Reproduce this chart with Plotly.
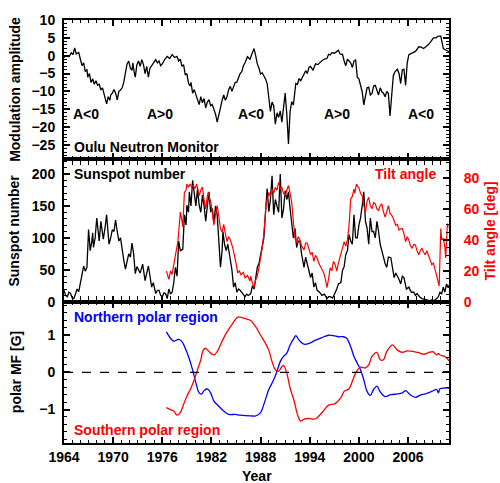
import plotly.graph_objects as go

# ---- Oulu neutron monitor modulation amplitude ----
mod_year = [1964.0, 1964.3, 1964.6, 1964.9, 1965.1, 1965.3, 1965.5, 1965.8, 1966.0, 1966.2,
            1966.4, 1966.6, 1966.8, 1966.9, 1967.1, 1967.3, 1967.5, 1967.7, 1967.9, 1968.1,
            1968.3, 1968.5, 1968.7, 1968.9, 1969.1, 1969.2, 1969.4, 1969.6, 1969.7, 1969.9,
            1970.1, 1970.3, 1970.5, 1970.7, 1970.9, 1971.1, 1971.3, 1971.5, 1971.7, 1971.9,
            1972.1, 1972.3, 1972.4, 1972.6, 1972.7, 1972.9, 1973.1, 1973.3, 1973.5, 1973.7,
            1973.9, 1974.1, 1974.3, 1974.5, 1974.8, 1975.0, 1975.2, 1975.4, 1975.6, 1975.8,
            1976.0, 1976.3, 1976.6, 1976.9, 1977.2, 1977.5, 1977.8, 1978.0, 1978.2, 1978.4,
            1978.6, 1978.8, 1979.0, 1979.2, 1979.4, 1979.5, 1979.7, 1979.9, 1980.1, 1980.3,
            1980.5, 1980.7, 1980.9, 1981.1, 1981.3, 1981.5, 1981.7, 1981.9, 1982.1, 1982.3,
            1982.5, 1982.7, 1982.9, 1983.1, 1983.3, 1983.5, 1983.7, 1983.9, 1984.1, 1984.3,
            1984.5, 1984.7, 1984.9, 1985.1, 1985.3, 1985.5, 1985.7, 1985.9, 1986.1, 1986.4,
            1986.7, 1987.0, 1987.2, 1987.4, 1987.6, 1987.8, 1988.0, 1988.2, 1988.4, 1988.6,
            1988.8, 1989.0, 1989.2, 1989.4, 1989.6, 1989.8, 1990.0, 1990.2, 1990.4, 1990.6,
            1990.8, 1991.0, 1991.2, 1991.4, 1991.6, 1991.8, 1992.0, 1992.2, 1992.3, 1992.5,
            1992.7, 1992.9, 1993.1, 1993.3, 1993.5, 1993.7, 1993.9, 1994.1, 1994.4, 1994.7,
            1995.0, 1995.3, 1995.6, 1995.9, 1996.1, 1996.3, 1996.5, 1996.7, 1997.0, 1997.2,
            1997.5, 1997.7, 1998.0, 1998.2, 1998.4, 1998.6, 1998.8, 1999.0, 1999.2, 1999.4,
            1999.6, 1999.8, 2000.0, 2000.2, 2000.4, 2000.6, 2000.8, 2001.0, 2001.2, 2001.4,
            2001.6, 2001.8, 2002.0, 2002.2, 2002.4, 2002.6, 2002.8, 2003.0, 2003.2, 2003.4,
            2003.6, 2003.8, 2004.0, 2004.2, 2004.4, 2004.7, 2004.9, 2005.1, 2005.3, 2005.5,
            2005.7, 2005.9, 2006.1, 2006.3, 2006.5, 2006.7, 2006.9, 2007.1, 2007.3, 2007.6,
            2007.9, 2008.2, 2008.5, 2008.8, 2009.1, 2009.4, 2009.7, 2010.0, 2010.2, 2010.3,
            2010.6, 2010.8, 2011.0]
mod_val = [-0.5, 0.0, -0.3, 0.8, 0.3, 2.2, 0.5, 0.9, -1.0, -2.8,
           -2.0, -4.5, -3.8, -6.0, -5.0, -7.5, -6.5, -8.0, -7.0, -8.3,
           -8.0, -9.6, -9.0, -11.0, -12.8, -13.5, -11.5, -12.5, -11.0, -10.5,
           -9.5, -10.5, -12.4, -10.0, -9.6, -9.0, -7.4, -5.0, -2.3, -1.5,
           -3.5, -4.1, -2.0, -5.0, -6.0, -2.5, -1.5, -3.0, -1.1, -2.5,
           -5.0, -3.0, -6.0, -3.5, -2.3, -1.8, -1.1, -2.0, -1.5, -2.8,
           -2.3, -1.0, -0.2, -0.8, 0.3, -0.5, -0.2, -1.5, -1.0, -3.0,
           -2.5, -5.4, -5.0, -7.7, -8.5, -7.5, -10.5, -9.5, -11.0, -12.0,
           -13.7, -11.5, -13.2, -12.0, -14.6, -13.0, -12.3, -14.0, -13.7, -15.0,
           -16.4, -18.6, -16.0, -14.6, -12.5, -11.0, -12.5, -11.5, -9.5, -8.6,
           -10.0, -9.0, -7.5, -7.4, -6.0, -5.0, -4.5, -2.8, -2.0, -0.3,
           -1.0, 0.5, 2.0, 0.0, -2.3, -3.5, -5.1, -4.8, -5.6, -6.5,
           -7.8, -11.5, -15.6, -13.0, -14.0, -19.2, -16.0, -17.3, -15.5, -18.6,
           -14.0, -10.5, -16.4, -24.7, -15.6, -12.9, -13.8, -9.0, -7.8, -8.0,
           -6.4, -7.0, -6.0, -5.0, -4.2, -5.0, -3.3, -3.0, -4.1, -2.3,
           -2.5, -1.8, -1.2, -0.9, -0.8, 0.4, 0.2, 0.85, 0.7, 1.0,
           1.5, 0.5, 0.4, -1.5, -2.8, -1.0, -1.5, -2.0, -3.3, -1.5,
           -1.1, -6.0, -6.5, -8.3, -10.1, -13.8, -11.0, -9.0, -8.8, -11.0,
           -10.6, -8.5, -8.3, -9.5, -11.0, -9.0, -10.1, -10.5, -11.5, -10.0,
           -10.6, -16.9, -10.6, -5.6, -4.5, -3.8, -5.0, -7.8, -4.0, -3.8,
           -8.3, -2.0, 0.3, 0.5, 0.7, 1.0, 1.2, 1.8, 2.5, 2.4,
           2.0, 2.6, 3.1, 4.0, 5.0, 5.0, 5.5, 5.5, 3.5, 2.0,
           1.6, 1.5, 1.2]

# ---- Sunspot number ----
ssn_year = [1964.0, 1964.2, 1964.4, 1964.6, 1964.8, 1965.0, 1965.2, 1965.4, 1965.6, 1965.8,
            1966.0, 1966.2, 1966.4, 1966.6, 1966.8, 1967.0, 1967.1, 1967.2, 1967.4, 1967.5,
            1967.6, 1967.8, 1968.0, 1968.2, 1968.3, 1968.5, 1968.7, 1968.8, 1969.0, 1969.2,
            1969.4, 1969.5, 1969.7, 1969.9, 1970.1, 1970.3, 1970.5, 1970.7, 1970.9, 1971.1,
            1971.3, 1971.5, 1971.7, 1971.9, 1972.1, 1972.3, 1972.5, 1972.7, 1972.9, 1973.1,
            1973.3, 1973.6, 1973.8, 1973.9, 1974.1, 1974.3, 1974.5, 1974.7, 1974.9, 1975.2,
            1975.4, 1975.6, 1975.8, 1976.0, 1976.2, 1976.4, 1976.6, 1976.8, 1977.0, 1977.2,
            1977.4, 1977.6, 1977.8, 1978.0, 1978.2, 1978.5, 1978.7, 1978.9, 1979.0, 1979.2,
            1979.3, 1979.5, 1979.7, 1979.9, 1980.1, 1980.3, 1980.5, 1980.7, 1980.9, 1981.1,
            1981.3, 1981.5, 1981.7, 1981.9, 1982.1, 1982.3, 1982.5, 1982.7, 1982.9, 1983.1,
            1983.3, 1983.4, 1983.6, 1983.8, 1984.0, 1984.3, 1984.5, 1984.7, 1984.9, 1985.1,
            1985.3, 1985.5, 1985.8, 1986.1, 1986.3, 1986.5, 1986.8, 1987.0, 1987.2, 1987.4,
            1987.6, 1987.8, 1988.0, 1988.2, 1988.4, 1988.6, 1988.8, 1989.0, 1989.2, 1989.4,
            1989.6, 1989.8, 1990.0, 1990.2, 1990.4, 1990.6, 1990.8, 1991.0, 1991.2, 1991.4,
            1991.6, 1991.8, 1992.0, 1992.2, 1992.4, 1992.6, 1992.8, 1993.0, 1993.3, 1993.5,
            1993.7, 1993.9, 1994.1, 1994.3, 1994.5, 1994.7, 1994.9, 1995.2, 1995.5, 1995.8,
            1996.1, 1996.3, 1996.5, 1996.8, 1997.1, 1997.3, 1997.5, 1997.8, 1998.0, 1998.2,
            1998.4, 1998.6, 1998.8, 1999.0, 1999.2, 1999.4, 1999.6, 1999.8, 2000.0, 2000.2,
            2000.4, 2000.6, 2000.8, 2001.0, 2001.2, 2001.4, 2001.6, 2001.8, 2002.0, 2002.2,
            2002.4, 2002.6, 2002.8, 2003.0, 2003.2, 2003.4, 2003.6, 2003.9, 2004.1, 2004.3,
            2004.5, 2004.7, 2004.9, 2005.1, 2005.3, 2005.5, 2005.8, 2006.1, 2006.4, 2006.7,
            2006.9, 2007.1, 2007.4, 2007.7, 2008.0, 2008.3, 2008.6, 2008.9, 2009.2, 2009.5,
            2009.7, 2009.9, 2010.1, 2010.3, 2010.5, 2010.7, 2010.9, 2011.0]
ssn_val = [18, 10, 8, 15, 13, 6, 5, 14, 20, 16,
           28, 40, 56, 48, 54, 113, 90, 80, 95, 108,
           85, 100, 131, 105, 95, 126, 110, 98, 115, 136,
           105, 90, 100, 113, 110, 128, 110, 95, 100, 80,
           65, 51, 62, 75, 70, 92, 75, 44, 55, 51,
           45, 59, 40, 33, 45, 56, 40, 23, 30, 13,
           18, 18, 10, 8, 14, 13, 5, 20, 12, 15,
           30, 54, 40, 95, 80, 82, 136, 120, 151, 140,
           172, 150, 190, 167, 150, 177, 151, 140, 167, 150,
           126, 150, 172, 140, 146, 123, 150, 136, 100, 54,
           80, 110, 90, 80, 90, 67, 50, 23, 30, 15,
           20, 18, 12, 8, 12, 10, 13, 25, 20, 40,
           54, 60, 74, 90, 100, 140, 177, 141, 160, 197,
           136, 160, 151, 140, 200, 131, 145, 174, 160, 172,
           146, 125, 100, 115, 85, 95, 95, 75, 54, 70,
           59, 45, 38, 45, 23, 30, 18, 15, 10, 12,
           5, 8, 8, 6, 13, 20, 28, 30, 49, 55,
           74, 80, 105, 95, 90, 136, 100, 100, 120, 131,
           150, 172, 126, 115, 90, 131, 110, 110, 100, 126,
           110, 90, 80, 69, 60, 54, 70, 69, 50, 38,
           45, 41, 35, 28, 40, 38, 20, 23, 15, 15,
           10, 13, 8, 5, 4, 3.5, 2, 3, 2, 5,
           8, 15, 12, 23, 15, 28, 22, 26]

# ---- Heliospheric current sheet tilt angle (deg) ----
tilt_year = [1976.5, 1976.7, 1976.8, 1977.0, 1977.2, 1977.4, 1977.6, 1977.9, 1978.0, 1978.2,
             1978.4, 1978.5, 1978.7, 1978.9, 1979.0, 1979.2, 1979.4, 1979.6, 1979.8, 1980.0,
             1980.2, 1980.4, 1980.5, 1980.7, 1980.9, 1981.1, 1981.3, 1981.5, 1981.6, 1981.8,
             1981.9, 1982.1, 1982.3, 1982.5, 1982.7, 1982.9, 1983.1, 1983.3, 1983.5, 1983.7,
             1983.9, 1984.1, 1984.3, 1984.6, 1984.8, 1985.0, 1985.2, 1985.4, 1985.6, 1985.9,
             1986.1, 1986.4, 1986.7, 1986.8, 1987.0, 1987.2, 1987.4, 1987.6, 1987.8, 1988.0,
             1988.2, 1988.4, 1988.6, 1988.7, 1988.9, 1989.0, 1989.2, 1989.4, 1989.6, 1989.8,
             1990.0, 1990.2, 1990.4, 1990.6, 1990.8, 1991.0, 1991.2, 1991.4, 1991.6, 1991.8,
             1992.0, 1992.2, 1992.4, 1992.6, 1992.8, 1993.0, 1993.3, 1993.5, 1993.7, 1993.9,
             1994.1, 1994.3, 1994.5, 1994.7, 1994.9, 1995.1, 1995.3, 1995.5, 1995.7, 1995.9,
             1996.1, 1996.3, 1996.5, 1996.7, 1996.9, 1997.1, 1997.3, 1997.5, 1997.8, 1998.0,
             1998.2, 1998.4, 1998.6, 1998.8, 1999.0, 1999.2, 1999.4, 1999.5, 1999.7, 1999.9,
             2000.0, 2000.2, 2000.4, 2000.6, 2000.8, 2001.0, 2001.2, 2001.4, 2001.6, 2001.8,
             2002.0, 2002.2, 2002.4, 2002.6, 2002.8, 2003.0, 2003.2, 2003.4, 2003.6, 2003.8,
             2004.0, 2004.2, 2004.5, 2004.7, 2004.9, 2005.1, 2005.3, 2005.5, 2005.7, 2005.9,
             2006.1, 2006.3, 2006.5, 2006.7, 2006.9, 2007.1, 2007.3, 2007.5, 2007.7, 2007.9,
             2008.1, 2008.3, 2008.5, 2008.7, 2008.9, 2009.1, 2009.4, 2009.6, 2009.8, 2010.0,
             2010.1, 2010.3, 2010.5, 2010.6, 2010.8, 2010.9]
tilt_val = [19.8, 16, 14.5, 20, 17.7, 24, 30, 38.8, 45, 57.9,
            52, 48.4, 70.6, 72, 75.9, 74, 76, 74, 75, 73,
            76, 72, 68.5, 72, 74, 66, 60, 68, 70.6, 66,
            65, 58, 49.4, 56, 62.1, 55, 47.3, 45, 50, 44,
            38.8, 42, 40, 35, 30.4, 25, 18.7, 20, 17.5, 19,
            15.5, 17, 13.4, 16.6, 12, 9.2, 14, 16.6, 22, 28.3,
            35, 44.1, 55, 64.2, 68, 70.6, 68, 72.7, 70, 73.8,
            72, 77, 73, 73.8, 70, 68.5, 72, 75, 70, 64.2,
            52, 41, 37.8, 42, 40, 36, 33.5, 38, 37.8, 34,
            30.4, 32, 26.1, 30, 28.3, 25, 23, 21, 18.7, 15,
            9.2, 15, 21.9, 20, 26.1, 24, 19.8, 25, 30.4, 34,
            38.8, 36, 40, 49.4, 66.3, 68, 72.7, 70, 75.9, 74,
            73.8, 70, 68.5, 62, 57.9, 65, 67.4, 62, 60, 64,
            63.2, 60, 59, 62, 63.2, 58, 54.7, 58, 62, 57,
            56, 54, 49.4, 50, 46.3, 47, 47.3, 44, 38.8, 42,
            39.8, 36, 34.6, 37, 36.7, 33, 30.4, 33, 34.6, 32,
            30.4, 33, 30.4, 27, 24, 25, 18.7, 15, 10.3, 47.3,
            40, 41, 35, 28.3, 50.5, 48]

# ---- Polar magnetic field (G) ----
north_year = [1976.5, 1977.0, 1977.4, 1978.0, 1978.4, 1978.8, 1979.2, 1979.7, 1980.1, 1980.5,
              1980.8, 1981.1, 1981.5, 1981.9, 1982.3, 1982.9, 1983.5, 1984.1, 1984.9, 1985.5,
              1986.8, 1987.4, 1988.0, 1988.4, 1989.0, 1989.6, 1990.0, 1990.4, 1990.8, 1991.2,
              1991.6, 1992.1, 1992.3, 1992.7, 1993.3, 1993.9, 1994.7, 1995.5, 1996.3, 1996.9,
              1997.5, 1998.1, 1998.5, 1999.0, 1999.4, 1999.8, 2000.2, 2000.6, 2001.0, 2001.4,
              2001.8, 2002.2, 2002.6, 2003.2, 2003.9, 2004.7, 2005.3, 2005.7, 2006.3, 2006.9,
              2007.6, 2008.1, 2008.9, 2009.5, 2009.7, 2009.9, 2010.5, 2011.0]
north_val = [1.09, 0.92, 0.84, 0.89, 0.83, 0.65, 0.43, 0.07, -0.28, -0.55,
             -0.58, -0.49, -0.44, -0.55, -0.77, -0.91, -1.04, -1.13, -1.13, -1.15,
             -1.17, -1.17, -1.08, -0.86, -0.46, -0.20, 0.03, 0.29, 0.43, 0.52,
             0.74, 0.93, 0.99, 0.87, 0.76, 0.78, 0.87, 0.94, 1.00, 0.99,
             0.96, 0.96, 0.92, 0.69, 0.43, 0.25, 0.07, -0.20, -0.51, -0.62,
             -0.46, -0.37, -0.52, -0.65, -0.60, -0.58, -0.55, -0.49, -0.61, -0.67,
             -0.60, -0.58, -0.51, -0.46, -0.55, -0.44, -0.42, -0.42]

south_year = [1976.5, 1977.0, 1977.4, 1977.8, 1978.2, 1978.6, 1979.0, 1979.5, 1979.9, 1980.3,
              1980.7, 1981.0, 1981.3, 1981.7, 1982.3, 1982.7, 1983.3, 1983.9, 1984.6, 1985.2,
              1985.8, 1986.4, 1986.8, 1987.4, 1988.0, 1988.6, 1989.0, 1989.4, 1989.8, 1990.2,
              1990.6, 1990.8, 1991.2, 1991.6, 1992.1, 1992.5, 1992.9, 1993.3, 1993.9, 1994.5,
              1994.9, 1995.5, 1996.3, 1997.1, 1997.8, 1998.2, 1998.8, 1999.2, 1999.6, 2000.2,
              2000.8, 2001.2, 2001.6, 2002.2, 2002.6, 2003.0, 2003.4, 2004.1, 2004.7, 2005.3,
              2005.9, 2006.7, 2007.3, 2007.9, 2008.5, 2009.0, 2009.5, 2009.7, 2009.9, 2010.5,
              2011.0]
south_val = [-0.95, -1.00, -1.04, -1.15, -1.08, -0.86, -0.64, -0.42, -0.20, 0.07,
             0.34, 0.60, 0.65, 0.56, 0.47, 0.56, 0.84, 1.09, 1.32, 1.49,
             1.47, 1.43, 1.40, 1.23, 1.00, 0.78, 0.60, 0.29, 0.07, 0.03,
             0.16, 0.19, -0.02, -0.42, -0.77, -1.13, -1.31, -1.26, -1.24, -1.26,
             -1.22, -1.08, -0.88, -0.84, -0.68, -0.51, -0.44, -0.24, -0.02, 0.14,
             0.12, 0.20, 0.43, 0.54, 0.34, 0.34, 0.56, 0.74, 0.60, 0.54,
             0.58, 0.56, 0.53, 0.49, 0.53, 0.56, 0.47, 0.51, 0.47, 0.43,
             0.31]

year_ticks = [1964, 1970, 1976, 1982, 1988, 1994, 2000, 2006]
mod_ticks = [-25, -20, -15, -10, -5, 0, 5, 10]
ssn_ticks = [0, 50, 100, 150, 200]
tilt_ticks = [0, 20, 40, 60, 80]
mf_ticks = [-1, 0, 1]

FONT = "Liberation Sans, Arial, Helvetica, sans-serif"
RED = "#ff0000"
BLUE = "#0000ff"

fig = go.Figure()
fig.add_trace(go.Scatter(x=mod_year, y=mod_val, mode="lines", xaxis="x", yaxis="y",
                         line=dict(color="black", width=1.3)))
fig.add_trace(go.Scatter(x=ssn_year, y=ssn_val, mode="lines", xaxis="x2", yaxis="y2",
                         line=dict(color="black", width=1.3)))
fig.add_trace(go.Scatter(x=tilt_year, y=tilt_val, mode="lines", xaxis="x2", yaxis="y3",
                         line=dict(color=RED, width=1.2)))
fig.add_trace(go.Scatter(x=north_year, y=north_val, mode="lines", xaxis="x3", yaxis="y4",
                         line=dict(color=BLUE, width=1.3, shape="spline")))
fig.add_trace(go.Scatter(x=south_year, y=south_val, mode="lines", xaxis="x3", yaxis="y4",
                         line=dict(color=RED, width=1.3, shape="spline")))

tick_font = dict(family=FONT, size=14, color="black", weight="bold")
frame = dict(showline=True, linewidth=2, linecolor="black", showgrid=False, zeroline=False,
             ticks="inside", ticklen=6, tickwidth=1.5, tickcolor="black")

d3 = 143.5 / 430
d2 = 288.5 / 430

def xax(anchor, labels):
    return dict(frame, domain=[0, 1], anchor=anchor, range=[1964, 2011],
                tickmode="array", tickvals=year_ticks, showticklabels=labels,
                tickfont=tick_font, mirror="allticks",
                minor=dict(dtick=1, tick0=1964, ticks="inside", ticklen=3,
                           tickwidth=1.2, tickcolor="black"))

fig.update_layout(
    width=500, height=483,
    margin=dict(l=64, r=51, t=13, b=40),
    paper_bgcolor="white", plot_bgcolor="white",
    showlegend=False,
    font=dict(family=FONT, size=14, color="black"),
    xaxis=xax("y", False),
    xaxis2=xax("y2", False),
    xaxis3=xax("y4", True),
    yaxis=dict(frame, domain=[d2, 1], anchor="x", range=[-29, 10],
               tickmode="array", tickvals=mod_ticks, tickfont=tick_font,
               mirror="allticks", ticklabelstandoff=4,
               minor=dict(dtick=1, tick0=0, ticks="inside", ticklen=3,
                          tickwidth=1.2, tickcolor="black")),
    yaxis2=dict(frame, domain=[d3, d2], anchor="x2", range=[0, 223],
                tickmode="array", tickvals=ssn_ticks, tickfont=tick_font,
                mirror=True, ticklabelstandoff=4,
                minor=dict(dtick=10, tick0=0, ticks="inside", ticklen=3,
                           tickwidth=1.2, tickcolor="black")),
    yaxis3=dict(frame, anchor="x2", overlaying="y2", side="right", range=[0, 92],
                tickmode="array", tickvals=tilt_ticks,
                tickfont=dict(family=FONT, size=14, color=RED, weight="bold"),
                ticklabelstandoff=10,
                minor=dict(dtick=5, tick0=0, ticks="inside", ticklen=3,
                           tickwidth=1.2, tickcolor="black")),
    yaxis4=dict(frame, domain=[0, d3], anchor="x3", range=[-1.9, 1.9],
                tickmode="array", tickvals=mf_ticks, tickfont=tick_font,
                mirror="allticks", ticklabelstandoff=4,
                minor=dict(dtick=0.2, tick0=0, ticks="inside", ticklen=3,
                           tickwidth=1.2, tickcolor="black")),
)

# zero line of the polar field panel
fig.add_shape(type="line", xref="x3 domain", yref="y4", x0=0, x1=1, y0=0, y1=0,
              line=dict(color="black", width=1.2, dash="dash"))

def label(text, xref, yref, x, y, color="black", xanchor="left", angle=0):
    fig.add_annotation(text="<b>%s</b>" % text, xref=xref, yref=yref, x=x, y=y,
                       xanchor=xanchor, yanchor="middle", showarrow=False,
                       textangle=angle, font=dict(family=FONT, size=14, color=color))

# polarity epochs
for yr, txt in [(1966.7, "A&lt;0"), (1975.7, "A&gt;0"), (1986.8, "A&lt;0"),
                (1997.3, "A&gt;0"), (2007.6, "A&lt;0")]:
    label(txt, "x", "y", yr, -16.2, xanchor="center")

label("Oulu Neutron Monitor", "x domain", "y domain", 0.021, 0.09)
label("Sunspot number", "x2 domain", "y2 domain", 0.021, 0.893)
label("Tilt angle", "x2 domain", "y2 domain", 0.971, 0.893, color=RED, xanchor="right")
label("Northern polar region", "x3 domain", "y4 domain", 0.021, 0.892, color=BLUE)
label("Southern polar region", "x3 domain", "y4 domain", 0.021, 0.095, color=RED)

# axis titles
px = lambda p: (p - 64) / 385.0
label("Modulation amplitude", "paper", "paper", px(15), (443 - 84) / 430.0,
      xanchor="center", angle=-90)
label("Sunspot number", "paper", "paper", px(14), (443 - 227) / 430.0,
      xanchor="center", angle=-90)
label("polar MF [G]", "paper", "paper", px(16), (443 - 371) / 430.0,
      xanchor="center", angle=-90)
label("Tilt angle [deg]", "paper", "paper", px(490), (443 - 227) / 430.0,
      color=RED, xanchor="center", angle=-90)
label("Year", "paper", "paper", px(256.5), (443 - 477) / 430.0, xanchor="center")

fig.write_html("out.html")
